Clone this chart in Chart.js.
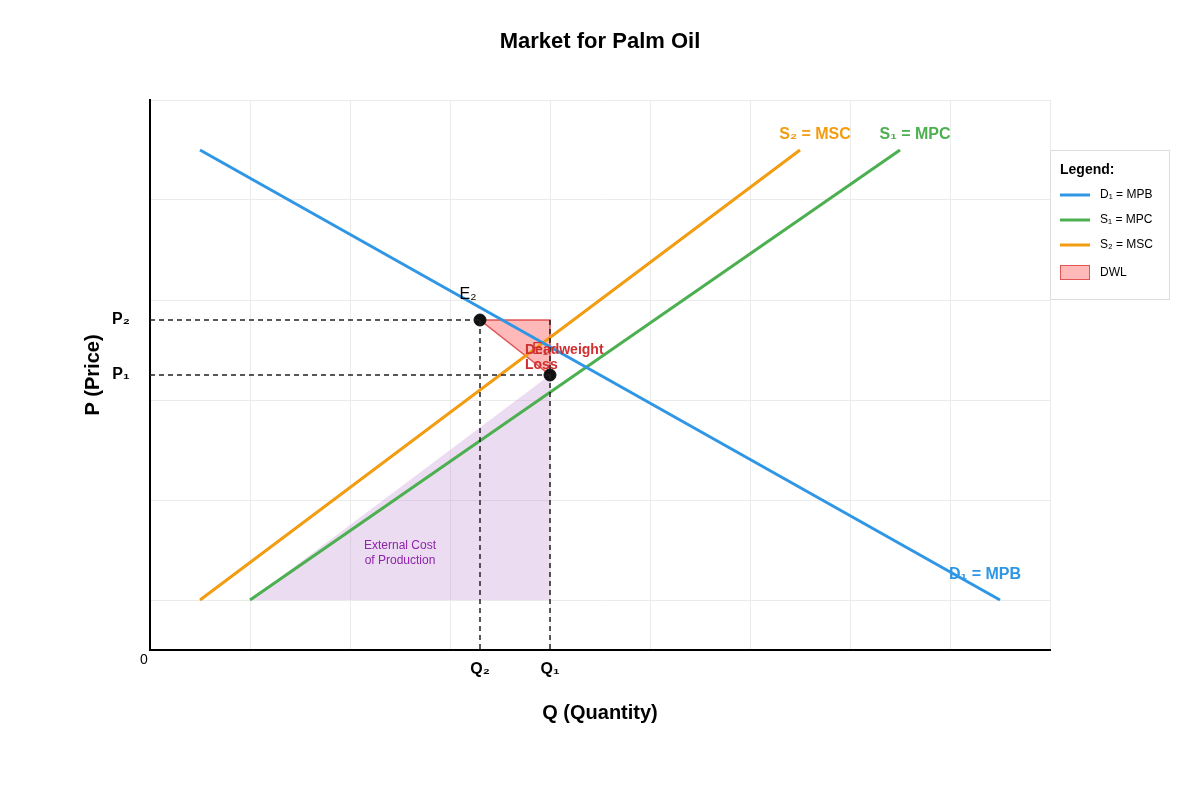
<!DOCTYPE html>
<html><head><meta charset="utf-8">
<script src="https://cdn.jsdelivr.net/npm/chart.js@4"></script>
<style>html,body{margin:0;padding:0;background:#fff}#w{width:1200px;height:800px}</style>
</head><body><div id="w"><canvas id="c"></canvas></div>
<script>
const demandD1 = [{x:0.5,y:10},{x:8.5,y:1}];
const supplyS1 = [{x:1,y:1},{x:7.5,y:10}];
const supplyS2 = [{x:0.5,y:1},{x:6.5,y:10}];
const equilibria = [{x:3.3,y:6.6,label:'E₂'},{x:4,y:5.5,label:'E₁'}];
const dwlTriangle = [{x:3.3,y:6.6},{x:4,y:6.6},{x:4,y:5.5}];
const externalCost = [{x:1,y:1},{x:4,y:5.5},{x:4,y:1}];
const yGridTicks = [1,3,5,7,9,11];
const xGridTicks = [0,1,2,3,4,5,6,7,8,9];
const BLUE='#2f96e5', GREEN='#4caf50', ORANGE='#f39c12';
const F='Liberation Sans, Arial, sans-serif';

const dashes = [
  {data:[{x:0,y:6.6},{x:3.3,y:6.6}]},
  {data:[{x:0,y:5.5},{x:4,y:5.5}]},
  {data:[{x:3.3,y:6.6},{x:3.3,y:0}]},
  {data:[{x:4,y:6.6},{x:4,y:0}]}
].map(d=>({data:d.data,showLine:true,borderColor:'#222',borderWidth:1.5,borderDash:[5,4],pointRadius:0,fill:false}));

function poly(ctx,xs,ys,pts,fill,stroke){
  ctx.beginPath();
  pts.forEach((p,i)=>{const X=xs.getPixelForValue(p.x),Y=ys.getPixelForValue(p.y);i?ctx.lineTo(X,Y):ctx.moveTo(X,Y);});
  ctx.closePath();ctx.fillStyle=fill;ctx.fill();
  if(stroke){ctx.strokeStyle=stroke;ctx.lineWidth=1.5;ctx.stroke();}
}
function txt(ctx,s,x,y,font,color,align){ctx.font=font;ctx.fillStyle=color;ctx.textAlign=align||'center';ctx.textBaseline='middle';ctx.fillText(s,x,y);}

const deco = {
  id:'deco',
  beforeDatasetsDraw(ch){
    const ctx=ch.ctx,xs=ch.scales.x,ys=ch.scales.y;
    ctx.save();
    poly(ctx,xs,ys,externalCost,'rgba(190,140,210,0.3)');
    poly(ctx,xs,ys,dwlTriangle,'rgba(255,80,80,0.4)','rgba(220,60,60,0.85)');
    ctx.restore();
  },
  afterDraw(ch){
    const ctx=ch.ctx,xs=ch.scales.x,ys=ch.scales.y;
    ctx.save();
    txt(ctx,'Market for Palm Oil',600,42,'bold 22px '+F,'#000');
    txt(ctx,'Q (Quantity)',600,713,'bold 20px '+F,'#000');
    ctx.save();ctx.translate(93,375);ctx.rotate(-Math.PI/2);txt(ctx,'P (Price)',0,0,'bold 20px '+F,'#000');ctx.restore();
    txt(ctx,'0',144,660,'14px '+F,'#000');
    txt(ctx,'P₂',121,ys.getPixelForValue(6.6),'bold 16px '+F,'#000');
    txt(ctx,'P₁',121,ys.getPixelForValue(5.5),'bold 16px '+F,'#000');
    txt(ctx,'Q₂',xs.getPixelForValue(3.3),670,'bold 16px '+F,'#000');
    txt(ctx,'Q₁',xs.getPixelForValue(4),670,'bold 16px '+F,'#000');
    txt(ctx,'E₂',468,295,'16px '+F,'#000');
    txt(ctx,'E₁',540,350,'16px '+F,'#c33');
    txt(ctx,'Deadweight',525,350,'bold 14px '+F,'#d03030','left');
    txt(ctx,'Loss',525,365,'bold 14px '+F,'#d03030','left');
    txt(ctx,'External Cost',400,546,'12px '+F,'#8e24aa');
    txt(ctx,'of Production',400,561,'12px '+F,'#8e24aa');
    txt(ctx,'S₂ = MSC',815,135,'bold 16px '+F,ORANGE);
    txt(ctx,'S₁ = MPC',915,135,'bold 16px '+F,GREEN);
    txt(ctx,'D₁ = MPB',985,575,'bold 16px '+F,BLUE);
    // legend
    ctx.fillStyle='#fff';ctx.fillRect(1050,150,120,150);
    ctx.strokeStyle='#ddd';ctx.lineWidth=1;ctx.strokeRect(1050.5,150.5,119,149);
    txt(ctx,'Legend:',1060,170,'bold 14px '+F,'#000','left');
    [[BLUE,'D₁ = MPB',195],[GREEN,'S₁ = MPC',220],[ORANGE,'S₂ = MSC',245]].forEach(([c,s,y])=>{
      ctx.strokeStyle=c;ctx.lineWidth=3;ctx.beginPath();ctx.moveTo(1060,y);ctx.lineTo(1090,y);ctx.stroke();
      txt(ctx,s,1100,y,'12px '+F,'#000','left');
    });
    ctx.fillStyle='rgba(255,100,100,0.45)';ctx.fillRect(1060,265,30,15);
    ctx.strokeStyle='rgba(220,60,60,0.8)';ctx.lineWidth=1;ctx.strokeRect(1060.5,265.5,29,14);
    txt(ctx,'DWL',1100,273,'12px '+F,'#000','left');
    ctx.restore();
  }
};

new Chart(document.getElementById('c'),{
  type:'scatter',
  data:{datasets:[
    ...dashes,
    {data:demandD1,showLine:true,borderColor:BLUE,borderWidth:3,pointRadius:0},
    {data:supplyS2,showLine:true,borderColor:ORANGE,borderWidth:3,pointRadius:0},
    {data:supplyS1,showLine:true,borderColor:GREEN,borderWidth:3,pointRadius:0},
    {data:equilibria,pointRadius:6,pointBackgroundColor:'#111',pointBorderColor:'#111'}
  ]},
  options:{
    responsive:true,maintainAspectRatio:false,animation:false,
    layout:{padding:{left:150,right:150,top:100,bottom:150}},
    plugins:{legend:{display:false},tooltip:{enabled:false},title:{display:false}},
    scales:{
      x:{type:'linear',min:0,max:9,afterBuildTicks:s=>{s.ticks=xGridTicks.map(v=>({value:v}));},
        ticks:{display:false},grid:{color:'#ebebeb',drawTicks:false},border:{color:'#000',width:2}},
      y:{type:'linear',min:0,max:11,afterBuildTicks:s=>{s.ticks=yGridTicks.map(v=>({value:v}));},
        ticks:{display:false},grid:{color:'#ebebeb',drawTicks:false},border:{color:'#000',width:2}}
    }
  },
  plugins:[deco]
});
</script></body></html>
